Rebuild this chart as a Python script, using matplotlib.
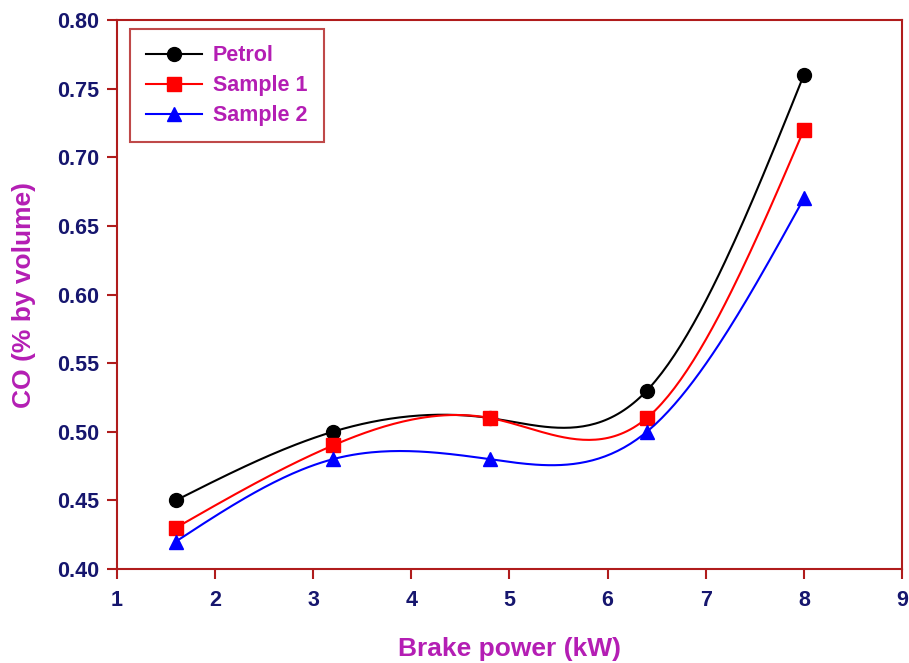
import numpy as np
import matplotlib
matplotlib.use('Agg')
from matplotlib import pyplot as plt

plt.rcParams['font.family'] = ['Liberation Sans', 'DejaVu Sans']
plt.rcParams['font.weight'] = 'bold'

brake_power = [1.6, 3.2, 4.8, 6.4, 8.0]
petrol = [0.45, 0.50, 0.51, 0.53, 0.76]
sample1 = [0.43, 0.49, 0.51, 0.51, 0.72]
sample2 = [0.42, 0.48, 0.48, 0.50, 0.67]

frame_col = '#b01c1c'
tick_col = '#16166e'
label_col = '#b41eb4'


def natural_spline(x, y, n=200):
	# natural cubic spline through the points
	x = np.asarray(x, float)
	y = np.asarray(y, float)
	k = len(x)
	h = np.diff(x)
	A = np.zeros((k, k))
	b = np.zeros(k)
	A[0, 0] = 1
	A[-1, -1] = 1
	for i in range(1, k - 1):
		A[i, i - 1] = h[i - 1]
		A[i, i] = 2 * (h[i - 1] + h[i])
		A[i, i + 1] = h[i]
		b[i] = 6 * ((y[i + 1] - y[i]) / h[i] - (y[i] - y[i - 1]) / h[i - 1])
	M = np.linalg.solve(A, b)
	xs = np.linspace(x[0], x[-1], n)
	idx = np.clip(np.searchsorted(x, xs) - 1, 0, k - 2)
	x0, x1 = x[idx], x[idx + 1]
	hh = x1 - x0
	ys = (M[idx] * (x1 - xs) ** 3 / (6 * hh) + M[idx + 1] * (xs - x0) ** 3 / (6 * hh)
		+ (y[idx] / hh - M[idx] * hh / 6) * (x1 - xs)
		+ (y[idx + 1] / hh - M[idx + 1] * hh / 6) * (xs - x0))
	return xs, ys


fig = plt.figure(figsize=(9.09, 6.63), dpi=100)
ax = fig.add_axes([0.1287, 0.1418, 0.8636, 0.8280])

series = [
	('Petrol', petrol, 'black', 'o'),
	('Sample 1', sample1, 'red', 's'),
	('Sample 2', sample2, 'blue', '^'),
]
for name, vals, col, mk in series:
	xs, ys = natural_spline(brake_power, vals)
	ax.plot(xs, ys, color=col, lw=1.5)
	ax.plot(brake_power, vals, linestyle='none', marker=mk, color=col, markersize=10)
	ax.plot([], [], color=col, lw=1.5, marker=mk, markersize=10, label=name)

ax.set_xlim(1, 9)
ax.set_ylim(0.40, 0.80)
ax.set_xticks(range(1, 10))
ax.set_yticks(np.arange(0.40, 0.801, 0.05))
ax.set_yticklabels(['%.2f' % v for v in np.arange(0.40, 0.801, 0.05)])

for sp in ax.spines.values():
	sp.set_color(frame_col)
	sp.set_linewidth(1.5)
ax.tick_params(colors=frame_col, labelcolor=tick_col, labelsize=15.5, direction='out',
	length=7, width=1.5)
ax.tick_params(axis='x', pad=8)
ax.tick_params(axis='y', pad=6)

ax.set_xlabel('Brake power (kW)', color=label_col, fontsize=19, fontweight='bold', labelpad=19)
ax.set_ylabel('CO (% by volume)', color=label_col, fontsize=19, fontweight='bold', labelpad=15)

leg = ax.legend(loc='upper left', bbox_to_anchor=(0.0166, 0.9836), fancybox=False,
	fontsize=15.5, handlelength=2.6, handletextpad=0.5, borderpad=0.75, labelspacing=0.42,
	borderaxespad=0)
leg.get_frame().set_edgecolor(frame_col)
leg.get_frame().set_linewidth(1.5)
for t in leg.get_texts():
	t.set_color(label_col)

fig.savefig('out.png', dpi=100)
